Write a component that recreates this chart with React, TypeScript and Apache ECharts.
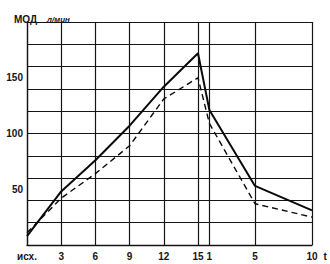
import React, { useEffect, useRef } from "react";
import * as echarts from "echarts";

// x positions: 0..15 exercise minutes, 16..25 = recovery minutes 1..10
const xCategories: string[] = Array.from({ length: 26 }, (_, i) => String(i));
const xLabelMap: Record<number, string> = { 0: "исх.", 3: "3", 6: "6", 9: "9", 12: "12", 15: "15", 16: "1", 20: "5", 25: "10" };
const xGridIdx: number[] = [0, 3, 6, 9, 12, 15, 16, 20, 25];

const solidX: number[] = [0, 3, 6, 9, 12, 15, 16, 20, 25];
const solidY: number[] = [8, 48, 76, 107, 142, 172, 121, 53, 31];
const dashedX: number[] = [0, 3, 6, 9, 12, 15, 16, 20, 25];
const dashedY: number[] = [11, 42, 64, 89, 131, 150, 109, 37, 25];

const yLabelValues: number[] = [50, 100, 150];

export default function App() {
  const ref = useRef<HTMLDivElement>(null);
  useEffect(() => {
    document.body.style.margin = "0";
    const chart = echarts.init(ref.current!, null, { renderer: "svg" });
    const ink = "#151515";
    chart.setOption({
      animation: false,
      backgroundColor: "#ffffff",
      title: {
        text: "{a|МОД}  {b|л/мин}",
        left: 9,
        top: 5,
        textStyle: {
          rich: {
            a: { fontFamily: "Liberation Sans", fontWeight: "bold", fontSize: 10, color: ink },
            b: { fontFamily: "Liberation Sans", fontStyle: "italic", fontWeight: "bold", fontSize: 8, color: ink },
          },
        },
      },
      grid: { left: 27, top: 22, right: 18, bottom: 19, containLabel: false },
      xAxis: {
        type: "category",
        data: xCategories,
        boundaryGap: false,
        name: "t",
        nameLocation: "end",
        nameGap: 8,
        nameTextStyle: { fontFamily: "Liberation Sans", fontSize: 10, fontWeight: "bold", color: ink, verticalAlign: "top", padding: [6, 0, 0, 0] },
        axisLine: { show: true, lineStyle: { color: ink, width: 1.3 } },
        axisTick: { show: false },
        axisLabel: {
          interval: (i: number) => xLabelMap[i] !== undefined,
          formatter: (v: string) => xLabelMap[Number(v)] ?? "",
          fontFamily: "Liberation Sans",
          fontSize: 10,
          fontWeight: "bold",
          color: ink,
          margin: 6,
        },
        splitLine: {
          show: true,
          interval: (i: number) => xGridIdx.includes(i),
          lineStyle: { color: ink, width: 1.2 },
        },
      },
      yAxis: [
        {
          type: "value",
          min: 0,
          max: 200,
          interval: 20,
          axisLine: { show: true, lineStyle: { color: ink, width: 1.3 } },
          axisTick: { show: false },
          axisLabel: { show: false },
          splitLine: { show: true, lineStyle: { color: ink, width: 1.2 } },
        },
        {
          type: "value",
          position: "left",
          min: 0,
          max: 200,
          interval: 50,
          axisLine: { show: false },
          axisTick: { show: false },
          splitLine: { show: false },
          axisLabel: {
            formatter: (v: number) => (yLabelValues.includes(v) ? String(v) : ""),
            fontFamily: "Liberation Sans",
            fontSize: 10,
            fontWeight: "bold",
            color: ink,
            margin: 4,
          },
        },
      ],
      series: [
        {
          type: "line",
          data: solidX.map((x, i) => [String(x), solidY[i]]),
          yAxisIndex: 0,
          symbol: "none",
          lineStyle: { color: "#0a0a0a", width: 2 },
        },
        {
          type: "line",
          data: dashedX.map((x, i) => [String(x), dashedY[i]]),
          yAxisIndex: 0,
          symbol: "none",
          lineStyle: { color: "#0a0a0a", width: 1.4, type: [6, 4] },
        },
      ],
    });
    return () => chart.dispose();
  }, []);
  return <div ref={ref} style={{ width: 330, height: 264 }} />;
}
